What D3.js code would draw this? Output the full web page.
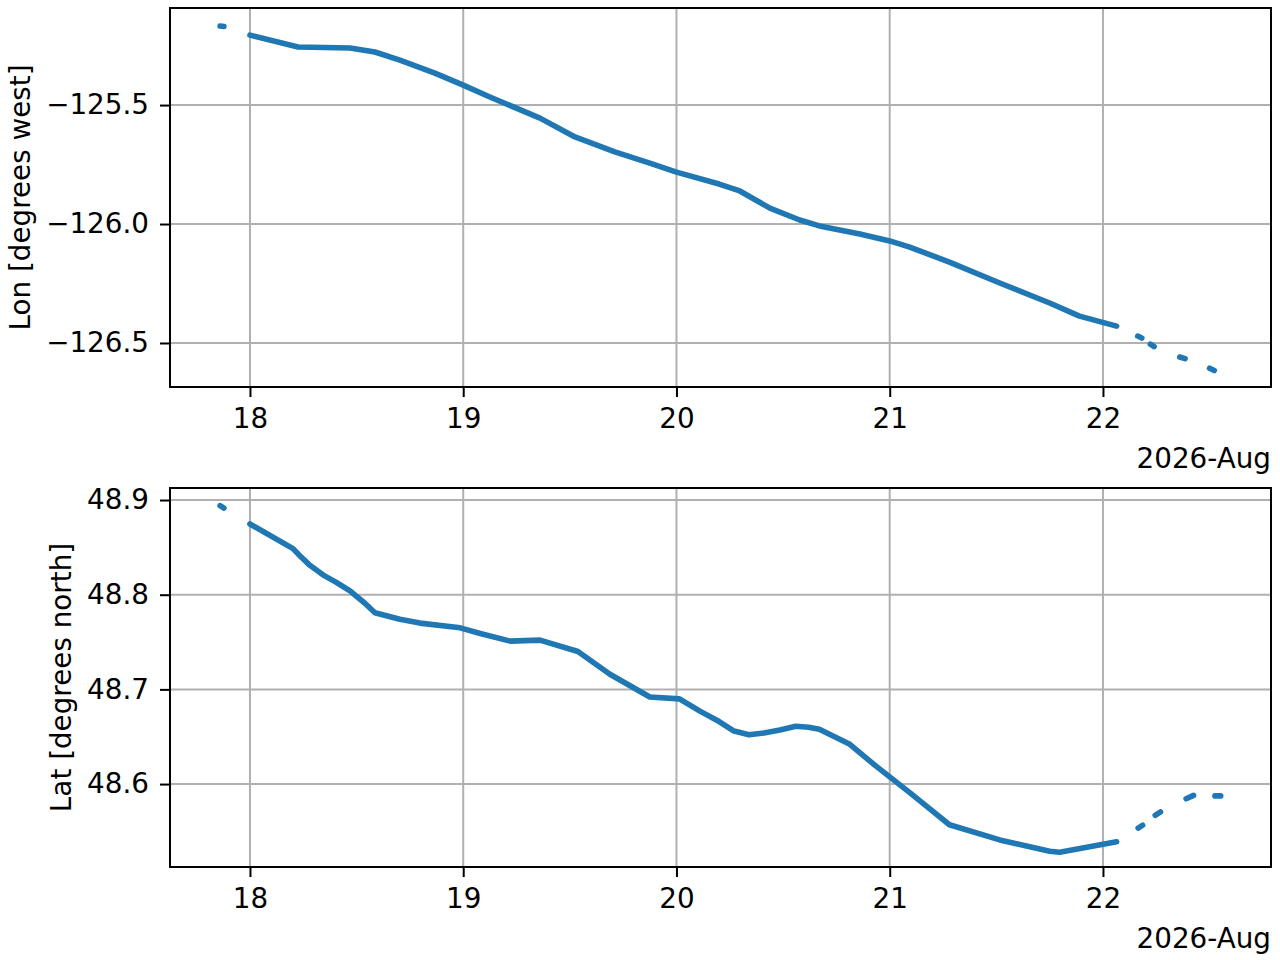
<!DOCTYPE html>
<html><head><meta charset="utf-8">
<script src="https://cdn.jsdelivr.net/npm/d3@7"></script>
<style>body{margin:0;background:#fff}svg{display:block;font-family:"DejaVu Sans",sans-serif}</style>
</head><body><svg id="c" width="1280" height="960"></svg>
<script>
// Day of August 2026 (fractional) and values
const xTicks = [18, 19, 20, 21, 22];
const lonTicks = [-125.5, -126.0, -126.5];
const latTicks = [48.6, 48.7, 48.8, 48.9];

const lonMainDays = [18.0,18.225,18.469,18.586,18.703,18.867,19.0,19.125,19.36,19.524,19.711,19.875,20.0,20.2,20.297,20.438,20.578,20.67,20.86,21.0,21.094,21.28,21.516,21.75,21.89,22.064];
const lonMainVals = [-125.206,-125.256,-125.260,-125.277,-125.311,-125.366,-125.416,-125.466,-125.555,-125.634,-125.697,-125.744,-125.782,-125.832,-125.861,-125.933,-125.983,-126.008,-126.042,-126.071,-126.097,-126.160,-126.248,-126.332,-126.387,-126.429];
const lonGapDays = [[17.86,17.878],[22.163,22.182],[22.222,22.24],[22.36,22.385],[22.5,22.522]];
const lonGapVals = [[-125.168,-125.170],[-126.471,-126.479],[-126.505,-126.515],[-126.559,-126.566],[-126.606,-126.616]];

const latMainDays = [18.0,18.2,18.239,18.281,18.342,18.405,18.469,18.539,18.586,18.703,18.797,18.986,19.08,19.22,19.36,19.538,19.688,19.875,20.014,20.11,20.2,20.27,20.34,20.41,20.485,20.56,20.62,20.67,20.813,20.93,21.094,21.28,21.516,21.75,21.797,22.064];
const latMainVals = [48.8747,48.849,48.840,48.831,48.821,48.813,48.804,48.791,48.781,48.774,48.770,48.765,48.759,48.751,48.752,48.740,48.716,48.692,48.690,48.677,48.666,48.656,48.652,48.654,48.657,48.661,48.660,48.658,48.642,48.620,48.591,48.557,48.541,48.529,48.528,48.539];
const latGapDays = [[17.86,17.878],[22.165,22.186],[22.245,22.27],[22.39,22.425],[22.525,22.552]];
const latGapVals = [[48.8940,48.8915],[48.5535,48.5565],[48.567,48.5705],[48.5845,48.588],[48.5875,48.5875]];

const toDate = d => new Date(Date.UTC(2026, 7, 1) + (d - 1) * 86400000);
const svg = d3.select("#c");
const L = 170, R = 1271, FS = 27.8;
const x = d3.scaleUtc().domain([toDate(17.625), toDate(22.788)]).range([L, R]);
const fmtY = f => v => d3.format(f)(v).replace("-", "\u2212");

function panel(top, bottom, yDomain, yTicks, fmt, label, labelX, mainD, mainV, gapD, gapV) {
  const y = d3.scaleLinear().domain(yDomain).range([bottom, top]);
  const g = svg.append("g");
  // grid
  g.selectAll(".gx").data(xTicks).join("line")
    .attr("x1", d => x(toDate(d))).attr("x2", d => x(toDate(d)))
    .attr("y1", top).attr("y2", bottom).attr("stroke", "#b0b0b0").attr("stroke-width", 2);
  g.selectAll(".gy").data(yTicks).join("line")
    .attr("x1", L).attr("x2", R).attr("y1", d => y(d)).attr("y2", d => y(d))
    .attr("stroke", "#b0b0b0").attr("stroke-width", 2);
  // data
  const line = d3.line().x(p => x(toDate(p[0]))).y(p => y(p[1]));
  const segs = [d3.zip(mainD, mainV)].concat(gapD.map((ds, i) => d3.zip(ds, gapV[i])));
  g.selectAll(".seg").data(segs).join("path").attr("d", line)
    .attr("fill", "none").attr("stroke", "#1f77b4").attr("stroke-width", 5.6)
    .attr("stroke-linecap", "round").attr("stroke-linejoin", "round");
  // axes
  const ax = g.append("g").attr("transform", `translate(0,${bottom})`)
    .call(d3.axisBottom(x).tickValues(xTicks.map(toDate)).tickFormat(d3.utcFormat("%-d")).tickSizeInner(10).tickSizeOuter(0).tickPadding(11));
  const ay = g.append("g").attr("transform", `translate(${L},0)`)
    .call(d3.axisLeft(y).tickValues(yTicks).tickFormat(fmtY(fmt)).tickSizeInner(10).tickSizeOuter(0).tickPadding(11));
  [ax, ay].forEach(a => {
    a.select(".domain").remove();
    a.selectAll("line").attr("stroke", "#000").attr("stroke-width", 2);
    a.selectAll("text").attr("font-size", FS).attr("font-family", "DejaVu Sans").attr("fill", "#000");
  });
  g.append("rect").attr("x", L).attr("y", top).attr("width", R - L).attr("height", bottom - top)
    .attr("fill", "none").attr("stroke", "#000").attr("stroke-width", 2);
  g.append("text").attr("transform", `translate(${labelX},${(top + bottom) / 2}) rotate(-90)`)
    .attr("text-anchor", "middle").attr("dominant-baseline", "central").attr("font-size", FS).text(label);
  g.append("text").attr("x", R).attr("y", bottom + 81).attr("text-anchor", "end").attr("font-size", FS).text("2026-Aug");
}

panel(8, 387, [-126.685, -125.092], lonTicks, ".1f", "Lon [degrees west]", 20, lonMainDays, lonMainVals, lonGapDays, lonGapVals);
panel(488, 867, [48.5124, 48.9127], latTicks, ".1f", "Lat [degrees north]", 61, latMainDays, latMainVals, latGapDays, latGapVals);
</script></body></html>
